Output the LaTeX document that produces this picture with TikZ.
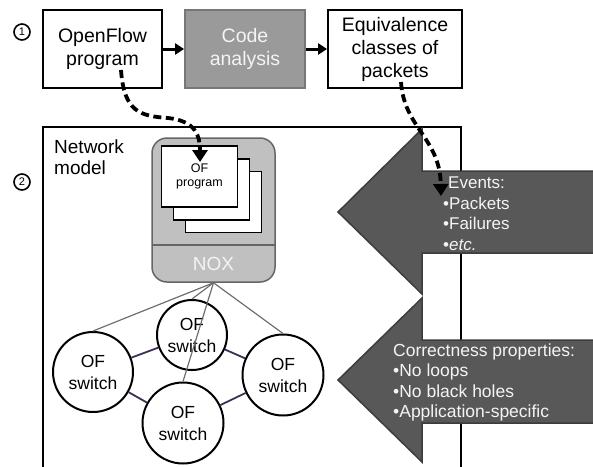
\documentclass[tikz,border=0pt]{standalone}
\usepackage{fontspec}
\setmainfont{Liberation Sans}
\usetikzlibrary{arrows.meta}
\definecolor{codegray}{HTML}{9A9A9A}
\definecolor{codeborder}{HTML}{777777}
\definecolor{noxfill}{HTML}{C0C0C0}
\definecolor{noxborder}{HTML}{666666}
\definecolor{bigarrow}{HTML}{585858}
\definecolor{bigarrowborder}{HTML}{3C3C3C}
\definecolor{linkpurple}{HTML}{3F2F55}
\definecolor{ctrlgray}{HTML}{6E6E6E}
\definecolor{lighttext}{HTML}{F4F4F4}
\begin{document}
\begin{tikzpicture}[x=1pt,y=-1pt,
  topbox/.style={draw=black,line width=1.8pt,fill=white,minimum height=78pt,align=center,inner sep=0pt,font=\fontsize{19.5}{23}\selectfont},
  codebox/.style={topbox,draw=codeborder,fill=codegray,text=lighttext},
  numcirc/.style={circle,draw=black,line width=1.6pt,minimum size=16pt,inner sep=0pt,font=\fontsize{11}{11}\selectfont},
  progbox/.style={draw=black,line width=1.8pt,fill=white,minimum width=76pt,minimum height=61pt,inner sep=0pt,align=center,font=\fontsize{12.5}{14}\selectfont},
  switchnode/.style={circle,draw=black,line width=2pt,fill=white,inner sep=0pt,align=center,font=\fontsize{17.5}{22}\selectfont},
  flowarrow/.style={line width=3pt,-{Triangle[length=9pt,width=11pt]}},
  dasharrow/.style={line width=3.8pt,dash pattern=on 8pt off 4.5pt,-{Triangle[length=12pt,width=15pt]}},
  ctrlline/.style={draw=ctrlgray,line width=1.2pt},
  linkline/.style={draw=linkpurple,line width=1.8pt},
  bigarrowstyle/.style={fill=bigarrow,draw=bigarrowborder,line width=1.5pt},
  arrowtext/.style={text=lighttext,align=left,inner sep=0pt,anchor=west},
]
\useasboundingbox (0,0) rectangle (593,466);

% step 1 row
\node[numcirc] (n1) at (22,32) {1};
\node[topbox,minimum width=119pt] (of) at (102.5,49) {OpenFlow\\program};
\node[codebox,minimum width=120pt] (code) at (245,49) {Code\\analysis};
\node[topbox,minimum width=134pt] (eq) at (395,49) {Equivalence\\classes of\\packets};
\draw[flowarrow] (of) -- (code);
\draw[flowarrow] (code) -- (eq);

% network model frame
\node[numcirc] (n2) at (22,182) {2};
\draw[line width=1.8pt] (43,470) -- (43,127) -- (461,127) -- (461,470);
\node[align=left,anchor=west,inner sep=0pt,font=\fontsize{19}{21}\selectfont] (nm) at (54,157.5) {Network\\model};

% NOX controller
\node[draw=noxborder,fill=noxfill,line width=1.5pt,rounded corners=15pt,minimum width=123pt,minimum height=144pt,inner sep=0pt] (nox) at (213.5,210) {};
\draw[draw=noxborder,line width=1.5pt] (152,245) -- (275,245);
\node[text=lighttext,font=\fontsize{19}{21}\selectfont,inner sep=0pt] (noxl) at (213.5,264) {NOX};
\node[progbox] (pb3) at (223.5,202) {};
\node[progbox] (pb2) at (211.5,189.5) {};
\node[progbox] (prog) at (199.5,176.5) {OF\\program};

% switches
\node[switchnode,minimum size=70pt] (s1) at (192,335) {OF\\switch};
\node[switchnode,minimum size=80pt] (s2) at (93,372) {OF\\switch};
\node[switchnode,minimum size=81pt] (s3) at (283,375) {OF\\switch};
\node[switchnode,minimum size=81pt] (s4) at (183,423) {OF\\switch};
\draw[linkline] (s2) -- (s1);
\draw[linkline] (s1) -- (s3);
\draw[linkline] (s2) -- (s4);
\draw[linkline] (s4) -- (s3);
\draw[ctrlline] (nox.south) -- (s2.north);
\draw[ctrlline] (nox.south) -- (s1.north);
\draw[ctrlline] (nox.south) -- (s4.north);
\draw[ctrlline] (nox.south) -- (s3.north);

% big input arrows
\draw[bigarrowstyle] (600,171) -- (422,171) -- (422,129) -- (338,212) -- (422,294) -- (422,253) -- (600,253) -- cycle;
\node[arrowtext,font=\fontsize{17}{20.5}\selectfont] (ev) at (443,213.5) {\hspace{5pt}Events:\\•Packets\\•Failures\\•\textit{etc.}};
\draw[bigarrowstyle] (600,340) -- (422,340) -- (422,298) -- (338,380) -- (422,462) -- (422,423) -- (600,423) -- cycle;
\node[arrowtext,font=\fontsize{17.5}{20.3}\selectfont] (cp) at (393,382.5) {Correctness properties:\\•No loops\\•No black holes\\•Application-specific};

% dashed arrows
\coordinate (d1s) at (121,70);
\coordinate (d1m) at (168,118);
\coordinate (d1e) at (200,162);
\draw[dasharrow] (d1s) .. controls (124,112) and (140,116) .. (d1m) .. controls (196,121) and (200,136) .. (d1e);
\coordinate (d2s) at (401,82);
\coordinate (d2e) at (441,196);
\draw[dasharrow] (d2s) .. controls (404,128) and (440,138) .. (d2e);
\end{tikzpicture}
\end{document}
